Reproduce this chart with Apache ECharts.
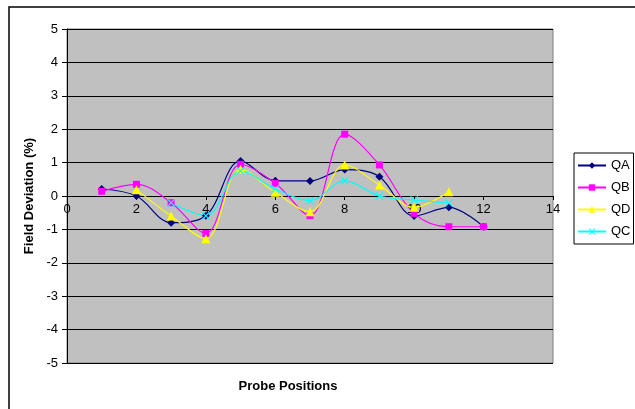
<!DOCTYPE html>
<html>
<head>
<meta charset="utf-8">
<script src="https://cdn.jsdelivr.net/npm/echarts@6/dist/echarts.min.js"></script>
<style>
  html, body { margin: 0; padding: 0; background: #fff; }
  #chart { width: 635px; height: 409px; }
</style>
</head>
<body>
<div id="chart"></div>
<script>
// probe positions
const positions = [1, 2, 3, 4, 5, 6, 7, 8, 9, 10, 11, 12]

// field deviation (%) per probe, null = not measured
const qa = [0.21, 0.0, -0.8, -0.59, 1.05, 0.46, 0.45, 0.79, 0.58, -0.6, -0.34, -0.92]
const qb = [0.14, 0.35, -0.2, -1.12, 0.95, 0.38, -0.59, 1.85, 0.93, -0.52, -0.92, -0.92]
const qd = [null, 0.19, -0.6, -1.28, 0.8, 0.11, -0.47, 0.93, 0.33, -0.34, 0.13, null]
const qc = [null, null, -0.2, -0.59, 0.75, 0.21, -0.14, 0.46, 0.0, -0.12, -0.21, null]

const xTicks = [0, 2, 4, 6, 8, 10, 12, 14]
const yTicks = [-5, -4, -3, -2, -1, 0, 1, 2, 3, 4, 5]

const crossPath = 'path://M0,1L1,0L5,4L9,0L10,1L6,5L10,9L9,10L5,6L1,10L0,9L4,5Z'

const gridTop = 29
const gridBottom = 46
const plotHeight = 409 - gridTop - gridBottom

const toPairs = (vals) => positions
  .map((p, i) => [p, vals[i]])
  .filter(d => d[1] !== null)

const makeSeries = (name, vals, color, symbol, size) => ({
  name,
  type: 'line',
  smooth: 0.35,
  data: toPairs(vals),
  symbol,
  symbolSize: size,
  showSymbol: true,
  lineStyle: { color, width: 1.2 },
  itemStyle: { color },
  emphasis: { disabled: true }
})

const chart = echarts.init(document.getElementById('chart'))

const option = {
  animation: false,
  textStyle: { fontFamily: 'Liberation Sans, Arial, sans-serif' },
  graphic: [
    {
      type: 'rect',
      shape: { x: 9, y: 7, width: 640, height: 420 },
      style: { fill: null, stroke: '#000', lineWidth: 1.5 },
      z: -10
    },
    {
      type: 'text',
      x: 288,
      y: 380,
      style: {
        text: 'Probe Positions',
        font: 'bold 13px Liberation Sans, Arial, sans-serif',
        fill: '#000',
        align: 'center'
      }
    }
  ],
  grid: {
    left: 67,
    right: 82,
    top: gridTop,
    bottom: gridBottom,
    show: true,
    backgroundColor: '#c0c0c0',
    borderColor: '#808080',
    borderWidth: 1
  },
  legend: {
    orient: 'vertical',
    left: 574,
    top: 153,
    padding: [6, 3, 6, 3],
    itemGap: 9,
    itemWidth: 28,
    itemHeight: 8,
    borderColor: '#000',
    borderWidth: 1,
    backgroundColor: '#fff',
    textStyle: { fontSize: 13, color: '#000' },
    data: ['QA', 'QB', 'QD', 'QC']
  },
  xAxis: {
    type: 'value',
    min: 0,
    max: 14,
    interval: 2,
    offset: -plotHeight / 2,
    axisLine: { onZero: false, lineStyle: { color: '#000', width: 1 } },
    axisTick: { show: true, inside: false, length: 4, lineStyle: { color: '#000' } },
    axisLabel: {
      color: '#000',
      fontSize: 13,
      margin: 7,
      formatter: v => xTicks.includes(v) ? String(v) : ''
    },
    splitLine: { show: false }
  },
  yAxis: {
    type: 'value',
    min: -5,
    max: 5,
    interval: 1,
    name: 'Field Deviation (%)',
    nameLocation: 'middle',
    nameGap: 25,
    nameRotate: 90,
    nameTextStyle: { fontWeight: 'bold', fontSize: 13, color: '#000' },
    axisLine: { show: true, lineStyle: { color: '#000', width: 1 } },
    axisTick: { show: true, length: 5, lineStyle: { color: '#000' } },
    axisLabel: {
      color: '#000',
      fontSize: 13,
      margin: 9,
      formatter: v => yTicks.includes(v) ? String(v) : ''
    },
    splitLine: { show: true, lineStyle: { color: '#000', width: 1 } }
  },
  series: [
    makeSeries('QA', qa, '#000080', 'diamond', 8),
    makeSeries('QB', qb, '#ff00ff', 'rect', 7),
    makeSeries('QD', qd, '#ffff00', 'triangle', 9),
    makeSeries('QC', qc, '#00ffff', crossPath, 8)
  ]
}

chart.setOption(option)
</script>
</body>
</html>
